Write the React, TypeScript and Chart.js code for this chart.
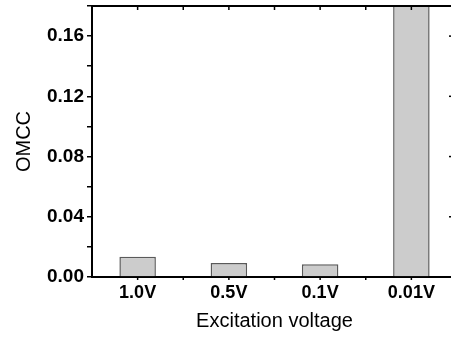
import React, { useEffect, useRef } from "react";
import { Chart, registerables } from "chart.js";

Chart.register(...registerables);

const categories = ["1.0V", "0.5V", "0.1V", "0.01V"];
const omccValues = [0.0135, 0.0093, 0.0084, 0.2];
const yMin = 0;
const yMax = 0.18;
const yStep = 0.02;
const xTitle = "Excitation voltage";
const yTitle = "OMCC";

const framePlugin = {
  id: "frame",
  afterDraw(chart: any) {
    const { ctx, chartArea: a, scales } = chart;
    const x = scales.x;
    const y = scales.y;
    ctx.save();
    ctx.strokeStyle = "#000";
    ctx.lineWidth = 2;
    ctx.beginPath();
    ctx.moveTo(a.left, a.top);
    ctx.lineTo(a.right, a.top);
    ctx.lineTo(a.right, a.bottom);
    ctx.stroke();
    ctx.lineWidth = 1.5;
    const half = (x.getPixelForValue(1) - x.getPixelForValue(0)) / 2;
    for (let i = 0; i < categories.length; i++) {
      const c = x.getPixelForValue(i);
      const pts = [c, c + half];
      for (const p of pts) {
        if (p >= a.right - 1) continue;
        ctx.beginPath();
        ctx.moveTo(p, a.top);
        ctx.lineTo(p, a.top + 4);
        ctx.stroke();
        ctx.beginPath();
        ctx.moveTo(p, a.bottom);
        ctx.lineTo(p, a.bottom + 3);
        ctx.stroke();
      }
    }
    for (let v = yMin; v <= yMax + 1e-9; v += yStep) {
      const major = Math.round(v / yStep) % 2 === 0;
      const py = y.getPixelForValue(v);
      ctx.beginPath();
      ctx.moveTo(a.right, py);
      ctx.lineTo(a.right - (major ? 8 : 4), py);
      ctx.stroke();
    }
    ctx.restore();
  },
};

export default function App() {
  const ref = useRef<HTMLCanvasElement>(null);
  useEffect(() => {
    if (!ref.current) return;
    const chart = new Chart(ref.current, {
      type: "bar",
      data: {
        labels: categories,
        datasets: [
          {
            data: omccValues,
            backgroundColor: "#cccccc",
            borderColor: "#5a5a5a",
            borderWidth: 1.5,
            barPercentage: 0.4,
            categoryPercentage: 1,
          },
        ],
      },
      options: {
        animation: false,
        responsive: true,
        maintainAspectRatio: false,
        layout: { padding: { top: 6, right: 3, left: 0, bottom: 0 } },
        plugins: { legend: { display: false }, tooltip: { enabled: false } },
        scales: {
          x: {
            grid: { display: false, drawTicks: false },
            border: { display: true, color: "#000", width: 2 },
            ticks: {
              color: "#000",
              font: { family: "'Liberation Sans', Arial, sans-serif", size: 18, weight: "bold" },
              padding: 5,
              maxRotation: 0,
            },
            title: {
              display: true,
              text: xTitle,
              color: "#000",
              font: { family: "'Liberation Sans', Arial, sans-serif", size: 20 },
              padding: { top: 4 },
            },
            afterFit: (s: any) => {
              s.height = 60;
            },
          },
          y: {
            min: yMin,
            max: yMax,
            grid: {
              drawOnChartArea: false,
              tickLength: 5,
              color: "#000",
              lineWidth: 1.5,
            },
            border: { display: true, color: "#000", width: 2 },
            ticks: {
              stepSize: yStep,
              color: "#000",
              padding: 3,
              font: { family: "'Liberation Sans', Arial, sans-serif", size: 19, weight: "bold" },
              callback: (v: any) => {
                const n = Math.round(Number(v) / yStep);
                return n % 2 === 0 ? Number(v).toFixed(2) : "";
              },
            },
            title: {
              display: true,
              text: yTitle,
              color: "#000",
              font: { family: "'Liberation Sans', Arial, sans-serif", size: 20 },
              padding: { top: 12, bottom: 0 },
            },
            afterFit: (s: any) => {
              s.width = 92;
              s.paddingTop = 0;
              s.paddingBottom = 0;
            },
          },
        },
      },
      plugins: [framePlugin],
    });
    return () => chart.destroy();
  }, []);
  return (
    <div style={{ position: "fixed", left: 0, top: 0, width: 460, height: 337, background: "#fff" }}>
      <canvas ref={ref} />
    </div>
  );
}
